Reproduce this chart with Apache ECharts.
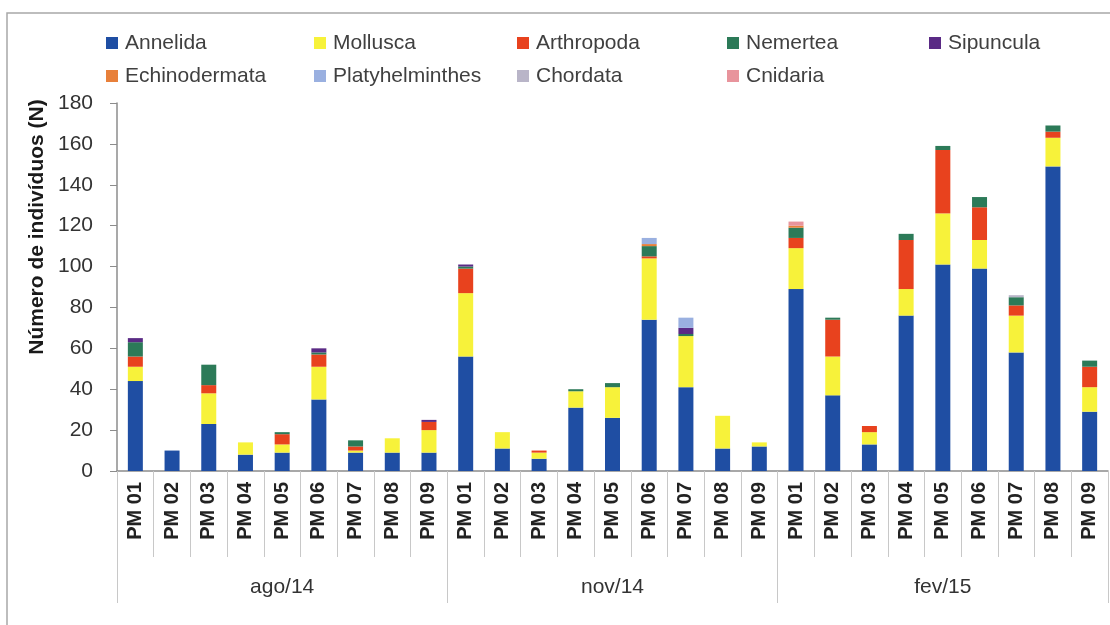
<!DOCTYPE html>
<html>
<head>
<meta charset="utf-8">
<script src="https://cdn.jsdelivr.net/npm/echarts@6/dist/echarts.min.js"></script>
<style>html,body{margin:0;padding:0;background:#fff;}#c{width:1110px;height:625px;}</style>
</head>
<body>
<div id="c"></div>
<script>
// ---- data ----
var sites = ['PM 01','PM 02','PM 03','PM 04','PM 05','PM 06','PM 07','PM 08','PM 09',
             'PM 01','PM 02','PM 03','PM 04','PM 05','PM 06','PM 07','PM 08','PM 09',
             'PM 01','PM 02','PM 03','PM 04','PM 05','PM 06','PM 07','PM 08','PM 09'];
var periods = ['ago/14','nov/14','fev/15'];
var yTicks = [0,20,40,60,80,100,120,140,160,180];

var annelida        = [44,10,23,8,9,35,9,9,9,   56,11,6,31,26,74,41,11,12,  89,37,13,76,101,99,58,149,29];
var mollusca        = [7,0,15,6,4,16,1,7,11,    31,8,3,8,15,30,25,16,2,     20,19,6,13,25,14,18,14,12];
var arthropoda      = [5,0,4,0,5,6,2,0,4,       12,0,1,0,0,1,0,0,0,         5,18,3,24,31,16,5,3,10];
var nemertea        = [7,0,10,0,1,1,3,0,0,      1,0,0,1,2,5,1,0,0,          5,1,0,3,2,5,4,3,3];
var sipuncula       = [2,0,0,0,0,2,0,0,1,       1,0,0,0,0,0,3,0,0,          0,0,0,0,0,0,0,0,0];
var echinodermata   = [0,0,0,0,0,0,0,0,0,       0,0,0,0,0,1,0,0,0,          1,0,0,0,0,0,0,0,0];
var platyhelminthes = [0,0,0,0,0,0,0,0,0,       0,0,0,0,0,3,5,0,0,          0,0,0,0,0,0,0,0,0];
var chordata        = [0,0,0,0,0,0,0,0,0,       0,0,0,0,0,0,0,0,0,          0,0,0,0,0,0,1,0,0];
var cnidaria        = [0,0,0,0,0,0,0,0,0,       0,0,0,0,0,0,0,0,0,          2,0,0,0,0,0,0,0,0];

var phyla = ['Annelida','Mollusca','Arthropoda','Nemertea','Sipuncula','Echinodermata','Platyhelminthes','Chordata','Cnidaria'];
var values = [annelida,mollusca,arthropoda,nemertea,sipuncula,echinodermata,platyhelminthes,chordata,cnidaria];
var colors = ['#1F4EA3','#F7F23A','#E8421E','#2C7A58','#5A2A85','#E8803A','#9AB0E0','#B9B5C8','#E8949C'];

// legend layout (left, top) per item
var legendPos = [[106,31],[314,31],[517,31],[727,31],[929,31],
                 [106,64],[314,64],[517,64],[727,64]];

var FONT = "'Liberation Sans', Arial, sans-serif";

var legends = phyla.map(function(p,i){
  return {
    data:[p], left:legendPos[i][0], top:legendPos[i][1], padding:0,
    icon:'rect', itemWidth:12, itemHeight:12, itemGap:0,
    textStyle:{fontFamily:FONT, fontSize:21, color:'#404040', padding:[0,0,0,2], lineHeight:24},
    selectedMode:false
  };
});

var series = phyla.map(function(p,i){
  return {
    name:p, type:'bar', stack:'total', data:values[i], barWidth:15,
    itemStyle:{color:colors[i]}, xAxisIndex:0, yAxisIndex:0
  };
});

var chart = echarts.init(document.getElementById('c'), null, {renderer:'canvas'});
chart.setOption({
  animation:false,
  backgroundColor:'#ffffff',
  color:colors,
  legend:legends,
  grid:{left:117, right:2, top:103, bottom:154, containLabel:false},
  xAxis:[{
    type:'category', data:sites, position:'bottom',
    axisLine:{show:true, lineStyle:{color:'#8c8c8c', width:1.5}},
    axisTick:{show:true, interval:0, length:86, lineStyle:{color:'#c8c8c8'}},
    axisLabel:{interval:0, rotate:90, margin:11, fontFamily:FONT, fontSize:20, fontWeight:'bold', color:'#222'}
  },{
    type:'category', data:periods, position:'bottom',
    axisLine:{show:false},
    axisTick:{show:true, interval:0, length:132, lineStyle:{color:'#c8c8c8'}},
    axisLabel:{interval:0, margin:106, fontFamily:FONT, fontSize:21, color:'#333'}
  }],
  yAxis:{
    type:'value', min:yTicks[0], max:yTicks[yTicks.length-1], interval:yTicks[1]-yTicks[0],
    axisLine:{show:true, lineStyle:{color:'#8c8c8c', width:1.5}},
    axisTick:{show:true, length:7, lineStyle:{color:'#8c8c8c'}},
    splitLine:{show:false},
    axisLabel:{margin:24, fontFamily:FONT, fontSize:21, color:'#333'}
  },
  graphic:[
    {type:'rect', shape:{x:7, y:13, width:1200, height:700}, style:{fill:'none', stroke:'#a8a8a8', lineWidth:1.5}, z:-10, silent:true},
    {type:'text', x:37, y:227, rotation:Math.PI/2,
     style:{text:'Número de indivíduos (N)', font:'bold 21px '+FONT, fill:'#1a1a1a', textAlign:'center', textVerticalAlign:'middle'}}
  ],
  series:series
});
</script>
</body>
</html>
